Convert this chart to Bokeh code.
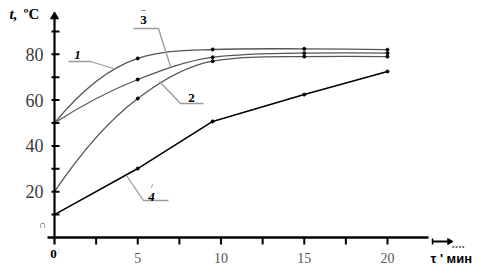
from bokeh.plotting import figure
from bokeh.models import Range1d
from bokeh.core.properties import value
from bokeh.embed import file_html
from bokeh.resources import INLINE

# ---- data ----
time_min = [0, 5, 9.5, 15, 20]
curve1 = [50, 78.2, 82.1, 82.4, 82.0]
curve2 = [20, 60.7, 77.0, 79.0, 79.0]
curve3 = [50, 69.0, 78.7, 80.5, 80.5]
curve4 = [10, 30.1, 50.7, 62.4, 72.5]

y_ticks = [10, 20, 30, 40, 50, 60, 70, 80, 90]
y_label_values = [20, 40, 60, 80]
y_label_texts = ["20", "40", "60", "80"]
x_ticks = [2.5, 5, 7.5, 10, 12.5, 15, 17.5, 20]
x_label_values = [5, 10, 15, 20]
x_label_texts = ["5", "10", "15", "20"]

# ---- layout constants (pixels) ----
W, H = 483, 275
X0, SX = 54.0, 16.65   # pixel of t=0, pixels per minute
Y0, SY = 237.0, 2.29   # pixel of 0 degC, pixels per degree


def px(x):
    return (x - X0) / SX


def py(y):
    return (Y0 - y) / SY


p = figure(width=W, height=H, output_backend="svg", toolbar_location=None,
           x_range=Range1d(px(0), px(W)), y_range=Range1d(py(H), py(0)),
           x_axis_type=None, y_axis_type=None, min_border=0,
           background_fill_color="white", border_fill_color="white")
p.outline_line_color = None
p.grid.visible = False


def bezier_parts(t, v):
    n = len(t)
    h = [t[i + 1] - t[i] for i in range(n - 1)]
    d = [(v[i + 1] - v[i]) / h[i] for i in range(n - 1)]
    m = [0.0] * n
    for i in range(1, n - 1):
        cr = (v[i + 1] - v[i - 1]) / (t[i + 1] - t[i - 1])
        if d[i - 1] * d[i] > 0:
            w1 = 2 * h[i] + h[i - 1]
            w2 = h[i] + 2 * h[i - 1]
            pc = (w1 + w2) / (w1 / d[i - 1] + w2 / d[i])
        else:
            pc = 0.0
        m[i] = 0.5 * (cr + pc)
    m[0] = 2 * d[0] - m[1]
    m[-1] = 2 * d[-1] - m[-2]
    out = dict(x0=[], y0=[], x1=[], y1=[], cx0=[], cy0=[], cx1=[], cy1=[])
    for i in range(n - 1):
        out["x0"].append(t[i]); out["y0"].append(v[i])
        out["x1"].append(t[i + 1]); out["y1"].append(v[i + 1])
        out["cx0"].append(t[i] + h[i] / 3); out["cy0"].append(v[i] + m[i] * h[i] / 3)
        out["cx1"].append(t[i + 1] - h[i] / 3); out["cy1"].append(v[i + 1] - m[i + 1] * h[i] / 3)
    return out


GRAY = "#555555"
for series in (curve1, curve2, curve3):
    p.bezier(**bezier_parts(time_min, series), line_color=GRAY, line_width=1.3)
p.line(time_min, curve4, line_color="black", line_width=1.6)

for series in (curve1, curve2, curve3, curve4):
    p.scatter(time_min[1:], series[1:], size=3, color="black")

# ---- axes drawn by hand ----
p.segment(x0=[0], y0=[py(244)], x1=[0], y1=[py(16)], line_color="black", line_width=2.2)
p.scatter([0], [py(16)], marker="triangle", size=8, color="black")
p.segment(x0=[px(47)], y0=[0], x1=[px(428)], y1=[0], line_color="black", line_width=2.4)

p.segment(x0=[px(51)] * len(y_ticks), y0=y_ticks, x1=[px(59)] * len(y_ticks), y1=y_ticks,
          line_color="black", line_width=2)
p.segment(x0=x_ticks, y0=[0] * len(x_ticks), x1=x_ticks, y1=[py(244)] * len(x_ticks),
          line_color="black", line_width=2)

p.text(x=[px(43)] * len(y_label_values), y=y_label_values, text=y_label_texts,
       text_font=value("Liberation Sans Narrow"), text_font_size="18px",
       text_align="right", text_baseline="middle", text_color="#3a3a3a")
p.text(x=x_label_values, y=[py(257)] * len(x_label_values), text=x_label_texts,
       text_font=value("Liberation Sans Narrow"), text_font_size="14px",
       text_align="center", text_baseline="middle", text_color="#555555")

p.text(x=[px(42)], y=[py(224)], text=["∩"], text_font=value("Liberation Sans Narrow"),
       text_font_size="10px", text_align="center", text_baseline="middle", text_color="#444444")
p.text(x=[px(53)], y=[py(253)], text=["0"], text_font=value("Liberation Serif"),
       text_font_size="13px", text_font_style="bold", text_align="center",
       text_baseline="middle", text_color="black")
p.text(x=[px(58)], y=[py(250)], text=[":"], text_font=value("Liberation Sans"),
       text_font_size="7px", text_align="center", text_baseline="middle", text_color="#777777")

p.text(x=[px(9)], y=[py(13)], text=["t,"], text_font=value("Liberation Serif"),
       text_font_size="15px", text_font_style="bold italic", text_align="left",
       text_baseline="middle", text_color="black")
p.text(x=[px(23)], y=[py(13)], text=["ºC"], text_font=value("Liberation Serif"),
       text_font_size="15px", text_font_style="bold", text_align="left",
       text_baseline="middle", text_color="black")

# time axis end: arrow and unit
p.segment(x0=[px(432)], y0=[py(241)], x1=[px(447)], y1=[py(241)], line_color="black", line_width=2)
p.segment(x0=[px(432)], y0=[py(238)], x1=[px(432)], y1=[py(244)], line_color="black", line_width=1.5)
p.scatter([px(449)], [py(241)], marker="triangle", angle=-1.5708, size=6, color="black")
p.text(x=[px(451)], y=[py(243)], text=["...."], text_font=value("Liberation Sans"),
       text_font_size="12px", text_font_style="bold", text_align="left",
       text_baseline="alphabetic", text_color="#666666")
p.text(x=[px(430)], y=[py(258)], text=["τ ' мин"], text_font=value("Liberation Sans"),
       text_font_size="13px", text_font_style="bold", text_align="left",
       text_baseline="middle", text_color="black")

# curve labels and leaders
LEAD = "#9a9a9a"
p.multi_line(xs=[[px(68), px(90), px(113)], [px(133), px(158), px(170)],
                 [px(159), px(180), px(203)], [px(126), px(143), px(168)]],
             ys=[[py(61), py(61), py(68)], [py(28), py(28), py(66)],
                 [py(81), py(103), py(103)], [py(175), py(200), py(200)]],
             line_color=LEAD, line_width=1.3)
p.text(x=[px(77), px(151)], y=[py(54), py(196)], text=["1", "4"],
       text_font=value("Liberation Serif"), text_font_size="13px",
       text_font_style="bold italic", text_align="center", text_baseline="middle",
       text_color="black")
p.text(x=[px(191), px(143)], y=[py(97), py(19)], text=["2", "3"],
       text_font=value("Liberation Serif"), text_font_size="13px",
       text_font_style="bold", text_align="center", text_baseline="middle",
       text_color="black")
p.segment(x0=[px(141), px(152)], y0=[py(10), py(184)], x1=[px(145), px(151)], y1=[py(10), py(187)],
          line_color="#888888", line_width=1)

open("out.html", "w").write(file_html(p, INLINE))
